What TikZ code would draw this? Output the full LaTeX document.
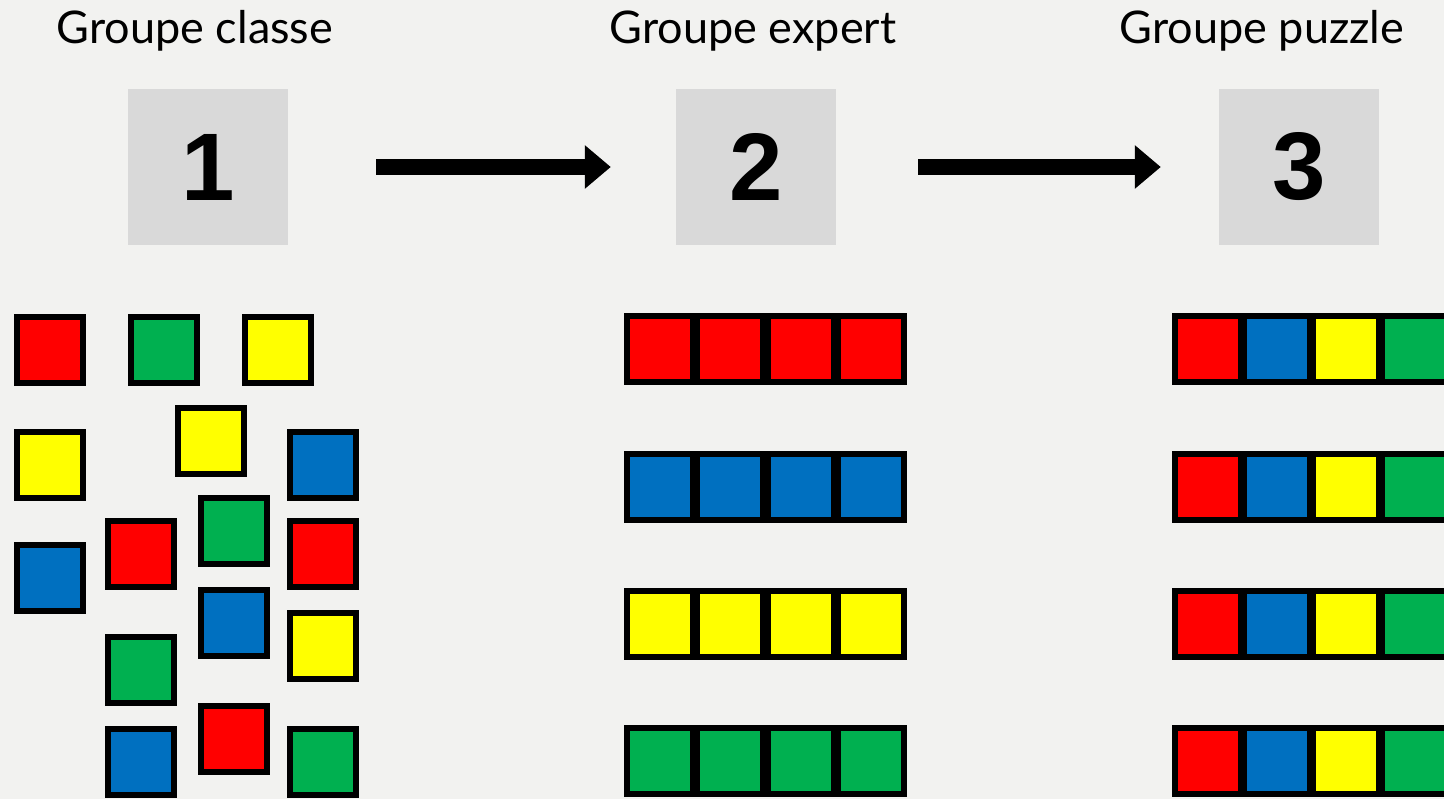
\documentclass[tikz,border=0pt]{standalone}
\usepackage{fontspec}
\setmainfont{Lato}
\newfontfamily\digitfont{Liberation Sans}
\usepackage{tikz}
\usetikzlibrary{arrows.meta,positioning}
\definecolor{bgcol}{HTML}{F2F2F0}
\definecolor{boxcol}{HTML}{D9D9D9}
\definecolor{sqred}{HTML}{FF0000}
\definecolor{sqgreen}{HTML}{00B050}
\definecolor{sqyellow}{HTML}{FFFF00}
\definecolor{sqblue}{HTML}{0070C0}

\begin{document}
\begin{tikzpicture}[x=1pt, y=-1pt, >={Triangle[length=26pt,width=42pt]},
    sq/.style={draw=black, line width=6pt, minimum size=66pt, inner sep=0pt, fill=#1},
    stepbox/.style={fill=boxcol, minimum width=160pt, minimum height=156pt, inner sep=0pt,
      font=\digitfont\bfseries\fontsize{96}{96}\selectfont},
    grptitle/.style={anchor=base, inner sep=0pt, font=\fontsize{45}{50}\selectfont}]
    \fill[bgcol] (0,0) rectangle (1444,799);
    \useasboundingbox (0,0) rectangle (1444,799);
    \clip (0,0) rectangle (1444,799);
    % the three steps
    \node[grptitle] (tclasse) at (195,44) {Groupe classe};
    \node[grptitle] (texpert) at (753,44) {Groupe expert};
    \node[grptitle] (tpuzzle) at (1262,44) {Groupe puzzle};
    \node[stepbox] (step1) at (208,167) {1};
    \node[stepbox] (step2) at (756,167) {2};
    \node[stepbox] (step3) at (1299,167) {3};
    \draw[->, line width=16pt, shorten <=88pt, shorten >=65pt] (step1) -- (step2);
    \draw[->, line width=16pt, shorten <=82pt, shorten >=58pt] (step2) -- (step3);
    % whole class: loose pieces
    \foreach \x/\y/\c [count=\i] in {50/350/sqred, 164/350/sqgreen, 278/350/sqyellow,
        50/465/sqyellow, 211/441/sqyellow, 323/465/sqblue,
        50/578/sqblue, 141/554/sqred, 234/531/sqgreen, 323/554/sqred,
        234/623/sqblue, 323/646/sqyellow, 141/670/sqgreen,
        234/739/sqred, 141/762/sqblue, 323/762/sqgreen}
      \node[sq=\c] (loose\i) at (\x,\y) {};
    % expert groups: one colour per row
    \foreach \c [count=\r] in {sqred,sqblue,sqyellow,sqgreen}
      \foreach \k in {0,...,3}
        \node[sq=\c] (exp\r\k) at ({660+70.3*\k},{349.5+137.2*(\r-1)}) {};
    % puzzle groups: every colour in each row
    \foreach \r in {1,...,4}
      \foreach \c [count=\k from 0] in {sqred,sqblue,sqyellow,sqgreen}
        \node[sq=\c] (puz\r\k) at ({1208+69*\k},{349.5+137.2*(\r-1)}) {};
\end{tikzpicture}
\end{document}
